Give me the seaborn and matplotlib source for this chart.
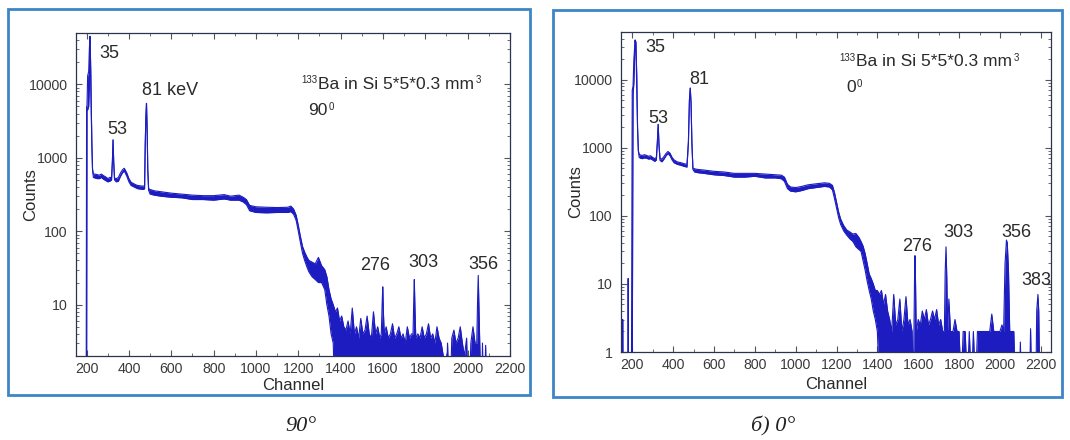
import numpy as np
import matplotlib
matplotlib.use("Agg")
import matplotlib.pyplot as plt
import seaborn as sns
from matplotlib.patches import Rectangle
from matplotlib.ticker import FixedLocator, LogLocator, NullFormatter, FuncFormatter

# ---------------- data: 133Ba spectrum, 90 degrees (left panel) ----------------
ch90 = [150, 198, 200, 202, 205, 210, 213, 216, 219, 222, 225, 228, 232,
        240, 250, 260, 270, 280, 290, 300, 310, 318, 322, 325, 328, 332, 340,
        350, 360, 370, 378, 390, 400, 410, 425, 440, 455, 468, 474, 477, 480,
        483, 486, 489, 493, 500, 520, 550, 600, 650, 700, 750, 800, 850, 880,
        920, 940, 955, 970, 1000, 1050, 1100, 1150, 1165, 1178, 1190, 1200,
        1210, 1220, 1230, 1240, 1250, 1265, 1280, 1295, 1310, 1325, 1335, 1345,
        1355, 1365, 1375, 1385, 1395, 1405, 1415, 1425, 1435, 1445, 1455, 1465,
        1475, 1485, 1495, 1505, 1515, 1525, 1535, 1545, 1555, 1565, 1575, 1585,
        1592, 1596, 1599, 1602, 1606, 1615, 1625, 1635, 1645, 1655, 1665, 1675,
        1685, 1695, 1705, 1715, 1725, 1735, 1742, 1746, 1748, 1751, 1755, 1765,
        1775, 1785, 1795, 1805, 1815, 1825, 1835, 1845, 1855, 1865, 1875, 1885,
        1895, 1905, 1915, 1925, 1935, 1945, 1955, 1965, 1975, 1985, 1995, 2005,
        2015, 2025, 2035, 2043, 2047, 2050, 2053, 2057, 2065, 2070, 2075, 2085,
        2090, 2200]
lo90 = [0, 0, 0, 4400, 4500, 5000, 9000, 45000, 12000, 4000, 1500, 700, 540,
        530, 520, 520, 540, 510, 490, 470, 480, 500, 900, 1750, 900, 500, 470,
        480, 560, 630, 660, 560, 470, 420, 400, 380, 375, 370, 380, 1500, 3500,
        5500, 2500, 700, 360, 320, 310, 300, 290, 285, 270, 270, 265, 275, 265,
        265, 250, 230, 190, 180, 178, 180, 180, 185, 170, 140, 100,
        70, 50, 40, 33, 28, 24, 22, 20, 20, 16, 10, 7,
        4, 3, 0, 0, 0, 0, 0, 0, 0, 0, 0, 0,
        0, 0, 0, 0, 0, 0, 0, 0, 0, 0, 0, 0,
        0, 0, 0, 0, 0, 0, 0, 0, 0, 0, 0, 0,
        0, 0, 0, 0, 0, 0, 0, 0, 0, 0, 0, 0,
        0, 0, 0, 0, 0, 0, 0, 0, 0, 0, 0, 0,
        0, 0, 0, 0, 0, 0, 0, 0, 0, 0, 0, 0,
        0, 0, 0, 0, 0, 0, 0, 0, 0, 0, 0, 0,
        0, 0]
hi90 = [0, 0, 4900, 5200, 13000, 15000, 30000, 45000, 20000, 6000, 1500, 700, 600,
        600, 590, 580, 600, 570, 550, 520, 540, 540, 900, 1750, 900, 530, 520,
        540, 620, 690, 720, 620, 520, 465, 440, 420, 415, 410, 420, 1500, 3500,
        5500, 2500, 700, 380, 370, 355, 345, 330, 320, 310, 305, 305, 315, 300,
        310, 290, 270, 225, 215, 212, 210, 212, 220, 200, 165, 120,
        85, 62, 52, 45, 40, 38, 36, 44, 34, 30, 24, 16,
        12, 10, 8, 9, 6, 7, 5, 4.5, 6, 4, 9, 4,
        5, 3.5, 6.5, 4, 4.5, 7, 4, 3.5, 8, 4, 5, 3.5,
        4, 10, 17.5, 8, 4, 5, 3.5, 4, 5.5, 3.5, 4, 5,
        3.5, 4, 3, 5, 3.5, 4, 4, 14, 22, 9, 3.5, 4,
        3.5, 5, 3.5, 4, 5.5, 3.5, 4, 3, 5, 3.5, 3, 2,
        0, 3, 0, 3.5, 4.5, 3, 3.5, 5, 3, 2, 3.5, 0,
        3, 5, 3, 3, 12, 25, 10, 3, 0, 3, 0, 2.8,
        0, 0]

# ---------------- data: 133Ba spectrum, 0 degrees (right panel) ----------------
ch0 = [145, 150, 151, 154, 155, 178, 180, 182, 196, 200, 204, 208, 214, 218,
       222, 226, 230, 234, 240, 250, 260, 270, 280, 290, 300, 310, 318, 323,
       327, 331, 336, 345, 355, 365, 375, 385, 395, 405, 420, 440, 455, 468,
       475, 480, 484, 488, 492, 497, 505, 520, 550, 600, 650, 700, 750, 800,
       850, 900, 930, 945, 960, 975, 1000, 1030, 1060, 1100, 1140, 1165, 1180,
       1190, 1200, 1210, 1220, 1235, 1250, 1265, 1280, 1295, 1310, 1320, 1330,
       1340, 1350, 1360, 1370, 1380, 1390, 1400, 1410, 1420, 1430, 1440, 1450,
       1460, 1470, 1480, 1490, 1500, 1510, 1520, 1530, 1540, 1550, 1560, 1570,
       1576, 1579, 1582, 1584, 1587, 1590, 1600, 1610, 1620, 1630, 1640, 1650,
       1660, 1670, 1680, 1690, 1700, 1710, 1720, 1728, 1732, 1736, 1740, 1744,
       1750, 1758, 1770, 1780, 1790, 1800, 1810, 1820, 1830, 1840, 1850, 1860,
       1870, 1880, 1890, 1900, 1910, 1920, 1930, 1940, 1950, 1960, 1970, 1980,
       1990, 2000, 2010, 2018, 2025, 2032, 2036, 2042, 2048, 2060, 2068, 2075,
       2095, 2100, 2105, 2145, 2150, 2155, 2176, 2180, 2186, 2190, 2195, 2250]
lo0 = [0, 0, 0, 0, 0, 0, 0, 0, 0, 0, 6000, 9000, 38000, 30000,
       8000, 2000, 900, 720, 700, 690, 710, 700, 680, 690, 660, 630, 660, 1200,
       2200, 1100, 650, 620, 680, 760, 820, 760, 660, 600, 570, 550, 530, 520,
       1200, 5000, 7500, 4500, 1200, 480, 440, 430, 420, 400, 390, 370, 370, 380,
       360, 360, 350, 320, 250, 230, 225, 235, 250, 260, 270, 265, 240,
       180, 130, 95, 75, 60, 52, 46, 42, 35, 32, 30, 22,
       16, 11, 8, 6, 4, 3, 2, 0, 0, 0, 0, 0,
       0, 0, 0, 0, 0, 0, 0, 0, 0, 0, 0, 0,
       0, 0, 0, 0, 0, 0, 0, 0, 0, 0, 0, 0,
       0, 0, 0, 0, 0, 0, 0, 0, 0, 0, 0, 0,
       0, 0, 0, 0, 0, 0, 0, 0, 0, 0, 0, 0,
       0, 0, 0, 0, 0, 0, 0, 0, 0, 0, 0, 0,
       0, 0, 0, 0, 0, 0, 0, 0, 0, 0, 0, 0,
       0, 0, 0, 0, 0, 0, 0, 0, 0, 0, 0, 0]
hi0 = [0, 0, 3, 3, 0, 0, 12, 0, 0, 7000, 8000, 20000, 38000, 36000,
       12000, 2000, 900, 800, 780, 770, 790, 770, 750, 760, 720, 690, 720, 1200,
       2200, 1100, 700, 680, 740, 820, 880, 830, 720, 660, 620, 600, 580, 570,
       1200, 5000, 7500, 4500, 1200, 500, 490, 480, 470, 450, 440, 420, 420, 420,
       410, 400, 395, 370, 290, 265, 260, 270, 285, 295, 305, 300, 280,
       220, 160, 115, 90, 72, 62, 58, 54, 55, 48, 42, 36,
       28, 20, 14, 12, 10, 8, 8, 7, 8, 5, 7, 4,
       3, 2, 7, 2.5, 3, 6, 2, 3, 6.5, 2.5, 3, 2,
       0, 2, 12, 26, 10, 2, 3, 2.5, 4, 3, 4.2, 2.5,
       3, 4, 3, 4.2, 2.5, 3, 2, 2, 15, 35, 12, 2,
       6, 2, 2, 3, 2, 2, 0, 2, 2, 0, 2, 0,
       2, 0, 2, 2, 2, 2, 2, 2, 2, 3.6, 2, 2,
       2, 2, 2.5, 2, 20, 44, 40, 15, 2, 2, 2, 0,
       0, 1.4, 0, 0, 2.2, 0, 0, 4, 7, 4, 0, 0]

# peak labels (keV)
labels90 = ["35", "81 keV", "53", "276", "303", "356"]
labels0 = ["35", "81", "53", "276", "303", "356", "383"]
xticks = list(range(200, 2201, 200))
yticks90 = [10, 100, 1000, 10000]
yticks0 = [1, 10, 100, 1000, 10000]

# ---------------- style ----------------
sns.set_theme(style="ticks")
plt.rcParams["font.family"] = ["Liberation Sans", "DejaVu Sans"]

TXT = "#2a2a2a"
TICK = "#3a3a3a"
LINE = "#1c1cc0"
BOX = "#3d85c6"

fig = plt.figure(figsize=(10.7, 4.4), dpi=100)
fig.patch.set_facecolor("white")

# panel frames
fig.patches.append(Rectangle((8 / 1070, 1 - 395 / 440), 522 / 1070, 386 / 440,
                             transform=fig.transFigure, fill=False,
                             edgecolor=BOX, lw=2))
fig.patches.append(Rectangle((553 / 1070, 1 - 397 / 440), 509 / 1070, 387 / 440,
                             transform=fig.transFigure, fill=False,
                             edgecolor=BOX, lw=2))

ax1 = fig.add_axes([76 / 1070, 1 - 356 / 440, 434 / 1070, 323 / 440])
ax2 = fig.add_axes([621 / 1070, 1 - 352 / 440, 430 / 1070, 320 / 440])


def draw(ax, ch, lo, hi, xlim, ylim, yticks):
    ax.set_yscale("log")
    lo_a = np.clip(np.asarray(lo, float), 0.3, None)
    hi_a = np.clip(np.asarray(hi, float), 0.3, None)
    ax.fill_between(ch, lo_a, hi_a, color=LINE, lw=0)
    sns.lineplot(x=ch, y=hi_a, ax=ax, color=LINE, lw=0.8,
                 estimator=None, sort=False)
    sns.lineplot(x=ch, y=lo_a, ax=ax, color=LINE, lw=0.8,
                 estimator=None, sort=False)
    ax.set_xlim(*xlim)
    ax.set_ylim(*ylim)
    ax.xaxis.set_major_locator(FixedLocator(xticks))
    ax.xaxis.set_minor_locator(FixedLocator(list(range(100, 2301, 100))))
    ax.yaxis.set_major_locator(FixedLocator(yticks))
    ax.yaxis.set_major_formatter(FuncFormatter(lambda v, p: f"{int(round(v))}"))
    ax.yaxis.set_minor_locator(LogLocator(base=10, subs=np.arange(2, 10)))
    ax.yaxis.set_minor_formatter(NullFormatter())
    ax.tick_params(which="both", direction="in", top=True, right=True,
                   colors="#555555", labelcolor=TICK, labelsize=10.2)
    ax.tick_params(which="major", length=4, width=0.8)
    ax.tick_params(which="minor", length=2, width=0.6)
    ax.tick_params(axis="x", pad=4)
    ax.tick_params(axis="y", pad=6)
    for s in ax.spines.values():
        s.set_color("#2b3350")
        s.set_linewidth(0.9)
    ax.set_xlabel("Channel", fontsize=12, color=TXT)
    ax.set_ylabel("Counts", fontsize=12, color=TXT)


draw(ax1, ch90, lo90, hi90, (150, 2200), (2, 50000), yticks90)
draw(ax2, ch0, lo0, hi0, (145, 2250), (1, 50000), yticks0)

ax1.xaxis.set_label_coords(0.5, -0.068)
ax1.yaxis.set_label_coords(-0.088, 0.5)
ax2.xaxis.set_label_coords(0.5, -0.078)
ax2.yaxis.set_label_coords(-0.088, 0.5)


def sample_label(ax, x, y, angle):
    main = ax.text(x, y, "Ba in Si 5*5*0.3 mm", transform=ax.transAxes,
                   ha="left", va="baseline", fontsize=12.5, color=TXT)
    ax.annotate("133", xy=(0, 1), xycoords=main, ha="right", va="top",
                fontsize=7, color=TXT, xytext=(-0.5, 1), textcoords="offset points")
    ax.annotate("3", xy=(1, 1), xycoords=main, ha="left", va="top",
                fontsize=7, color=TXT, xytext=(1, 1), textcoords="offset points")
    ang = ax.text(x - 0.023, y - 0.082, angle, transform=ax.transAxes,
                  ha="left", va="baseline", fontsize=12.5, color=TXT)
    ax.annotate("0", xy=(1, 1), xycoords=ang, ha="left", va="top",
                fontsize=7, color=TXT, xytext=(1, 1), textcoords="offset points")


# peak annotations (axes fraction positions)
pos90 = [(0.076, 0.935), (0.2166, 0.8235), (0.0945, 0.70), (0.689, 0.279),
         (0.7995, 0.288), (0.9378, 0.282)]
for lab, (x, y) in zip(labels90, pos90):
    ax1.text(x, y, lab, transform=ax1.transAxes, ha="center", va="center",
             fontsize=13, color=TXT)
sample_label(ax1, 0.558, 0.828, "90")

pos0 = [(0.0802, 0.953), (0.1826, 0.853), (0.086, 0.731), (0.688, 0.331),
        (0.785, 0.372), (0.9186, 0.372), (0.965, 0.222)]
for lab, (x, y) in zip(labels0, pos0):
    ax2.text(x, y, lab, transform=ax2.transAxes, ha="center", va="center",
             fontsize=13, color=TXT, clip_on=True)
sample_label(ax2, 0.5465, 0.894, "0")

# captions
fig.text(301 / 1070, 1 - 426 / 440, "90°", ha="center", va="center",
         fontsize=16, family="Liberation Serif", style="italic", color="#222222")
fig.text(773 / 1070, 1 - 426 / 440, "б) 0°", ha="center", va="center",
         fontsize=16, family="Liberation Serif", style="italic", color="#222222")

fig.savefig("out.png", dpi=100, facecolor="white")
